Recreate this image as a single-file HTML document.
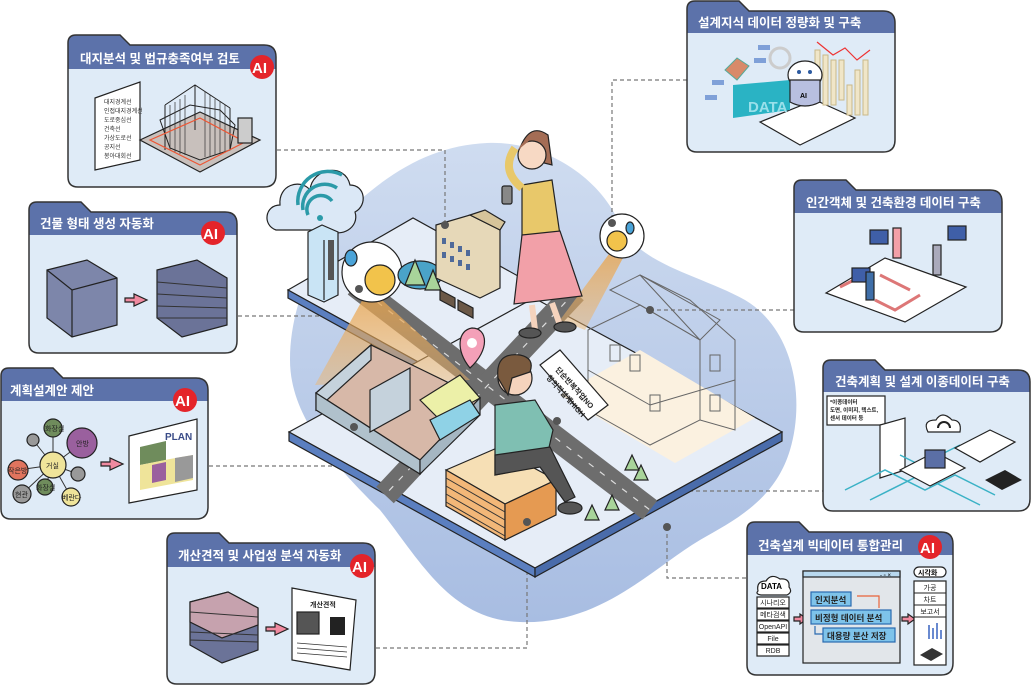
<!DOCTYPE html>
<html><head><meta charset="utf-8"><style>
html,body{margin:0;padding:0;background:#fff;}
svg{display:block;font-family:"Liberation Sans","Noto Sans CJK KR",sans-serif;}
.t{fill:#fff;font-weight:bold;font-size:12.5px;}
.cb{fill:#dfebf7;}
.ch{fill:#5c72aa;}
.co{fill:none;stroke:#333;stroke-width:1.5;}
.ai{fill:#e4242a;}
.ait{fill:#fff;font-weight:bold;font-size:15px;}
.d{fill:none;stroke:#777;stroke-width:1.2;stroke-dasharray:4 3;}
.dot{fill:#555;}
.k{stroke:#222;stroke-width:1.2;}
</style></head><body>
<svg width="1032" height="686" viewBox="0 0 1032 686" xmlns="http://www.w3.org/2000/svg">
<defs>
<linearGradient id="bl" x1="0" y1="0" x2="0" y2="1"><stop offset="0" stop-color="#cfdcf0"/><stop offset="1" stop-color="#a8bde2"/></linearGradient>
<linearGradient id="cone" x1="0" y1="0" x2="0" y2="1"><stop offset="0" stop-color="#e9a44c" stop-opacity=".8"/><stop offset="1" stop-color="#f0b56a" stop-opacity=".45"/></linearGradient>
</defs>

<path d="M487,143 C540,140 600,175 620,225 C640,265 700,275 745,300 C795,330 805,400 790,450 C775,500 735,520 700,540 C650,570 600,625 520,622 C450,620 420,560 380,510 C340,470 290,420 290,360 C290,300 320,240 360,200 C400,165 440,145 487,143 Z" fill="url(#bl)"/>

<path class="d" d="M277,150 H445 V225"/>
<path class="d" d="M238,316 H359 V289"/>
<path class="d" d="M209,466 H354 V427"/>
<path class="d" d="M376,648 H527 V522"/>
<path class="d" d="M687,80 H612 V223"/>
<path class="d" d="M650,310 H794"/>
<path class="d" d="M563,491 H823"/>
<path class="d" d="M667,527 V578 H747"/>

<polygon points="288,290 413,218 565,302 440,374" fill="#e6edf7" class="k"/>
<polygon points="288,290 440,374 440,382 288,298" fill="#5b7fc0" class="k"/>
<polygon points="289,432 534,298 782,432 535,568" fill="#e6edf7" class="k"/>
<polygon points="289,432 535,568 535,577 289,441" fill="#5b7fc0" class="k"/>
<polygon points="535,568 782,432 782,441 535,577" fill="#4a6cab" class="k"/>
<polygon points="560,395 640,350 755,418 675,463" fill="#fbf1e0"/>
<line x1="355" y1="285" x2="650" y2="510" stroke="#6d6d6d" stroke-width="24"/>
<line x1="575" y1="292" x2="385" y2="495" stroke="#6d6d6d" stroke-width="24"/>
<line x1="355" y1="285" x2="650" y2="510" stroke="#ddd" stroke-width="1.2" stroke-dasharray="6 8"/>
<line x1="575" y1="292" x2="385" y2="495" stroke="#ddd" stroke-width="1.2" stroke-dasharray="6 8"/>

<path d="M276,230 C262,225 265,205 280,205 C278,185 300,178 310,190 C312,168 345,162 350,185 C365,185 368,205 355,212 C360,228 340,238 330,230 Z" fill="#dbe8f6" class="k"/>
<path d="M308,215 a14,14 0 0 1 24,-14 M303,210 a22,22 0 0 1 34,-22 M298,205 a30,30 0 0 1 44,-30" fill="none" stroke="#2b9aa8" stroke-width="3.5"/>
<circle cx="320" cy="218" r="3" fill="#2b9aa8"/>
<polygon points="308,232 322,225 338,232 338,295 324,302 308,295" fill="#c9e4f5" class="k"/>
<line x1="324" y1="240" x2="324" y2="300" class="k"/>
<rect x="328" y="240" width="6" height="40" fill="#555"/>
<polygon points="368,290 382,300 470,380 315,385" fill="url(#cone)"/>
<polygon points="612,250 624,256 585,330 560,320" fill="url(#cone)"/>
<circle cx="372" cy="272" r="30" fill="#fff" class="k"/>
<circle cx="380" cy="280" r="15" fill="#f2c34b" class="k"/>
<ellipse cx="351" cy="258" rx="6" ry="8" fill="#4aa3d8" class="k"/>
<circle cx="622" cy="236" r="22" fill="#fff" class="k"/>
<circle cx="617" cy="241" r="10" fill="#f2c34b" class="k"/>
<ellipse cx="630" cy="228" rx="4" ry="6" fill="#4aa3d8" class="k"/>
<ellipse cx="420" cy="275" rx="22" ry="14" fill="#4aa3c8" class="k"/>
<path d="M405,285 l10,-25 l10,25 Z M425,290 l8,-20 l8,20 Z" fill="#a8d49a" class="k"/>
<polygon points="436,225 470,215 500,230 500,288 480,298 436,278" fill="#e6d8b8" class="k"/>
<polygon points="470,215 485,210 505,222 500,230" fill="#d6c49a" class="k"/>
<g fill="#4f6a9a"><rect x="442" y="238" width="4" height="6"/><rect x="450" y="242" width="4" height="6"/><rect x="458" y="246" width="4" height="6"/><rect x="466" y="250" width="4" height="6"/><rect x="442" y="252" width="4" height="6"/><rect x="450" y="256" width="4" height="6"/><rect x="458" y="260" width="4" height="6"/><rect x="466" y="264" width="4" height="6"/></g>
<path d="M440,300 l15,8 l0,-10 l-15,-8 Z M458,310 l15,8 l0,-10 l-15,-8 Z" fill="#6b5847" class="k"/>
<!-- woman -->
<path d="M522,185 l30,-5 l8,55 l-38,5 Z" fill="#e8c86a" class="k"/>
<path d="M522,235 l38,-4 l22,65 l-68,8 Z" fill="#f2a0a8" class="k"/>
<line x1="532" y1="305" x2="535" y2="330" stroke="#f5d3bd" stroke-width="6"/>
<line x1="552" y1="303" x2="560" y2="325" stroke="#f5d3bd" stroke-width="6"/>
<ellipse cx="530" cy="333" rx="11" ry="5" fill="#555" class="k"/>
<ellipse cx="565" cy="327" rx="11" ry="5" fill="#555" class="k"/>
<path d="M520,148 Q530,122 548,135 L552,165 L540,162 Z" fill="#a46d55" class="k"/>
<circle cx="532" cy="155" r="14" fill="#f7d9c4" class="k"/>
<path d="M518,150 Q528,130 546,142 L530,140 Z" fill="#a46d55"/>
<path d="M522,188 Q500,170 515,148" fill="none" stroke="#e8c86a" stroke-width="8"/>
<rect x="502" y="186" width="10" height="18" rx="2" fill="#888" class="k"/>
<path d="M470,368 C455,350 458,330 472,328 C488,328 490,350 470,368 Z" fill="#f4a0b8" class="k"/>
<circle cx="472" cy="343" r="5" fill="#fff"/>
<polygon points="316,393 371,345 480,398 420,460" fill="#d7b8a8" class="k"/>
<polygon points="316,393 371,345 371,360 316,410" fill="#c5d2dc" class="k"/>
<polygon points="316,393 316,410 420,474 420,460" fill="#b0c1cc" class="k"/>
<polygon points="420,460 480,398 480,415 420,474" fill="#a5b6c2" class="k"/>
<polygon points="370,390 410,368 410,410 370,432" fill="#c5d2dc" class="k"/>
<polygon points="420,400 460,375 480,398 440,420" fill="#ecf0a8" class="k"/>
<polygon points="430,420 470,400 480,415 440,440" fill="#8fd2e6" class="k"/>
<g fill="none" stroke="#666" stroke-width="1">
<polygon points="588,330 640,305 700,340 700,420 650,445 588,410"/>
<polygon points="610,290 640,275 720,320 700,340 640,305"/>
<polygon points="640,275 690,300 735,340 735,430 700,420 700,340"/>
<line x1="588" y1="370" x2="650" y2="405"/><line x1="650" y1="405" x2="735" y2="380"/>
<rect x="610" y="345" width="10" height="16"/><rect x="630" y="355" width="10" height="16"/><rect x="710" y="355" width="10" height="16"/><rect x="710" y="395" width="10" height="16"/><rect x="650" y="395" width="10" height="16"/>
</g>
<polygon points="446,470 497,448 556,480 505,504" fill="#f6dfb5" class="k"/>
<polygon points="446,470 505,504 505,540 446,506" fill="#f2b778" class="k"/>
<polygon points="505,504 556,480 556,515 505,540" fill="#e59a52" class="k"/>
<g stroke="#333" stroke-width="1"><line x1="446" y1="478" x2="505" y2="512"/><line x1="446" y1="486" x2="505" y2="520"/><line x1="446" y1="494" x2="505" y2="528"/><line x1="446" y1="502" x2="505" y2="536"/></g>
<path d="M495,405 l40,-5 l18,30 l-8,35 l-50,10 Z" fill="#7fbfb2" class="k"/>
<path d="M495,455 l55,-8 l25,50 l-10,5 l-25,-35 l-45,8 Z" fill="#555" class="k"/>
<ellipse cx="570" cy="508" rx="12" ry="6" fill="#555" class="k"/>
<circle cx="515" cy="378" r="17" fill="#f5d3bd" class="k"/>
<path d="M498,378 Q495,352 520,355 Q535,358 530,372 L512,378 L508,395 Z" fill="#7a5a3e" class="k"/>
<polygon points="540,365 560,350 608,405 588,420" fill="#fff" class="k"/>
<text x="555" y="370" font-size="7.5" font-weight="bold" fill="#222" transform="rotate(48 555 370)">단순반복작업NO</text>
<text x="546" y="378" font-size="7.5" font-weight="bold" fill="#222" transform="rotate(48 546 378)">창의적설계HIGH</text>
<path d="M625,470 l7,-15 l7,15 Z M634,480 l7,-15 l7,15 Z M585,520 l7,-15 l7,15 Z M605,510 l7,-15 l7,15 Z" fill="#a8d49a" class="k"/>
<circle class="dot" cx="445" cy="225" r="4"/><circle class="dot" cx="359" cy="289" r="4"/><circle class="dot" cx="354" cy="427" r="4"/><circle class="dot" cx="527" cy="522" r="4"/><circle class="dot" cx="612" cy="223" r="4"/><circle class="dot" cx="650" cy="310" r="4"/><circle class="dot" cx="557" cy="421" r="4"/><circle class="dot" cx="667" cy="527" r="4"/>

<!-- CARD 1 -->
<path class="ch" d="M68,177 L68,43 Q68,35 76,35 L120,35 L130,45 L264,45 Q276,45 276,57 L276,175 Q276,187 264,187 L78,187 Q68,187 68,177 Z"/>
<path class="cb" d="M68,69 L276,69 L276,175 Q276,187 264,187 L78,187 Q68,187 68,177 Z"/>
<path class="co" d="M68,177 L68,43 Q68,35 76,35 L120,35 L130,45 L264,45 Q276,45 276,57 L276,175 Q276,187 264,187 L78,187 Q68,187 68,177 Z"/>
<text class="t" x="80" y="63">대지분석 및 법규충족여부 검토</text>
<circle class="ai" cx="262" cy="67" r="12"/><text class="ait" x="252" y="73">AI</text>
<polygon points="95,98 140,82 140,160 95,170" fill="#fff" class="k"/>
<g font-size="6" fill="#333"><text x="104" y="104">대지경계선</text><text x="104" y="113">인접대지경계선</text><text x="104" y="122">도로중심선</text><text x="104" y="131">건축선</text><text x="104" y="140">가상도로선</text><text x="104" y="149">공지선</text><text x="104" y="158">봉아대회선</text></g>
<polygon points="140,140 200,112 260,140 200,172" fill="#c8c0bc" class="k"/>
<polygon points="160,120 190,105 220,110 235,125 230,150 200,160 170,148" fill="none" stroke="#222" stroke-width="1"/>
<path d="M165,105 L195,85 L230,108 M165,105 V150 M195,85 V130 M230,108 V150" fill="none" stroke="#222"/>
<g stroke="#333" stroke-width=".7"><line x1="170" y1="105" x2="170" y2="150"/><line x1="175" y1="102" x2="175" y2="152"/><line x1="180" y1="99" x2="180" y2="154"/><line x1="185" y1="95" x2="185" y2="155"/><line x1="205" y1="92" x2="205" y2="157"/><line x1="210" y1="95" x2="210" y2="156"/><line x1="215" y1="99" x2="215" y2="155"/><line x1="220" y1="102" x2="220" y2="153"/><line x1="225" y1="105" x2="225" y2="152"/></g>
<polygon points="150,140 200,118 245,142 200,165" fill="none" stroke="#e53" stroke-width="1.2"/>
<rect x="238" y="118" width="14" height="25" fill="#ccc" class="k"/>

<!-- CARD 2 -->
<path class="ch" d="M29,343 L29,210 Q29,202 37,202 L81,202 L91,212 L225,212 Q237,212 237,224 L237,341 Q237,353 225,353 L39,353 Q29,353 29,343 Z"/>
<path class="cb" d="M29,235 L237,235 L237,341 Q237,353 225,353 L39,353 Q29,353 29,343 Z"/>
<path class="co" d="M29,343 L29,210 Q29,202 37,202 L81,202 L91,212 L225,212 Q237,212 237,224 L237,341 Q237,353 225,353 L39,353 Q29,353 29,343 Z"/>
<text class="t" x="40" y="228">건물 형태 생성 자동화</text>
<circle class="ai" cx="213" cy="233" r="12"/><text class="ait" x="203" y="239">AI</text>
<polygon points="47,270 87,260 117,278 117,325 72,337 47,318" fill="#7d86aa" class="k"/>
<path d="M47,270 L72,290 L117,278 M72,290 L72,337" fill="none" stroke="#222" stroke-width="1.2"/>
<polygon points="125,298 134,298 134,294 147,300 134,306 134,302 125,302" fill="#f08aa0" class="k"/>
<polygon points="157,270 197,260 227,278 227,325 182,337 157,318" fill="#6b7398" class="k"/>
<g stroke="#333"><line x1="157" y1="282" x2="227" y2="288"/><line x1="157" y1="294" x2="227" y2="298"/><line x1="157" y1="306" x2="227" y2="308"/><line x1="157" y1="318" x2="227" y2="318"/></g>

<!-- CARD 3 -->
<path class="ch" d="M1,509 L1,376 Q1,368 9,368 L53,368 L63,378 L196,378 Q208,378 208,390 L208,507 Q208,519 196,519 L11,519 Q1,519 1,509 Z"/>
<path class="cb" d="M1,401 L208,401 L208,507 Q208,519 196,519 L11,519 Q1,519 1,509 Z"/>
<path class="co" d="M1,509 L1,376 Q1,368 9,368 L53,368 L63,378 L196,378 Q208,378 208,390 L208,507 Q208,519 196,519 L11,519 Q1,519 1,509 Z"/>
<text class="t" x="10" y="395">계획설계안 제안</text>
<circle class="ai" cx="185" cy="400" r="12"/><text class="ait" x="175" y="406">AI</text>
<g stroke="#333" stroke-width="1"><line x1="53" y1="465" x2="53" y2="428"/><line x1="53" y1="465" x2="82" y2="443"/><line x1="53" y1="465" x2="18" y2="470"/><line x1="53" y1="465" x2="22" y2="494"/><line x1="53" y1="465" x2="45" y2="487"/><line x1="53" y1="465" x2="71" y2="497"/><line x1="53" y1="465" x2="78" y2="474"/><line x1="53" y1="465" x2="33" y2="440"/></g>
<circle cx="53" cy="428" r="9" fill="#6f8c5c" class="k"/><circle cx="82" cy="443" r="15" fill="#9a609e" class="k"/><circle cx="53" cy="465" r="13" fill="#efe49a" class="k"/><circle cx="18" cy="470" r="10" fill="#e0745e" class="k"/><circle cx="22" cy="494" r="9" fill="#999" class="k"/><circle cx="45" cy="487" r="8" fill="#6f8c5c" class="k"/><circle cx="71" cy="497" r="9" fill="#efe49a" class="k"/><circle cx="78" cy="474" r="7" fill="#999" class="k"/><circle cx="33" cy="440" r="6" fill="#999" class="k"/>
<g font-size="7" fill="#222"><text x="45" y="431">화장실</text><text x="76" y="446">안방</text><text x="46" y="468">거실</text><text x="8" y="473">작은방</text><text x="15" y="497">현관</text><text x="36" y="490">화장실</text><text x="62" y="500">베란다</text></g>
<polygon points="101,462 110,462 110,458 123,464 110,470 110,466 101,466" fill="#f08aa0" class="k"/>
<polygon points="129,436 197,419 197,490 129,503" fill="#fff" class="k"/>
<polygon points="140,447 166,441 166,460 140,465" fill="#6f8c5c"/><polygon points="140,465 170,459 193,455 193,480 140,490" fill="#efe49a"/><polygon points="152,465 166,462 166,480 152,483" fill="#9a609e"/><polygon points="175,458 193,455 193,478 175,482" fill="#999"/>
<text x="165" y="440" font-size="10" font-weight="bold" fill="#3a4c88">PLAN</text>

<!-- CARD 4 -->
<path class="ch" d="M167,674 L167,541 Q167,533 175,533 L219,533 L229,543 L363,543 Q375,543 375,555 L375,672 Q375,684 363,684 L177,684 Q167,684 167,674 Z"/>
<path class="cb" d="M167,567 L375,567 L375,672 Q375,684 363,684 L177,684 Q167,684 167,674 Z"/>
<path class="co" d="M167,674 L167,541 Q167,533 175,533 L219,533 L229,543 L363,543 Q375,543 375,555 L375,672 Q375,684 363,684 L177,684 Q167,684 167,674 Z"/>
<text class="t" x="178" y="560">개산견적 및 사업성 분석 자동화</text>
<circle class="ai" cx="362" cy="566" r="12"/><text class="ait" x="352" y="572">AI</text>
<polygon points="190,602 228,592 258,608 258,650 222,663 190,645" fill="#6b7398" class="k"/>
<polygon points="190,602 228,592 258,608 258,625 222,638 190,622" fill="#c6a2ae" class="k"/>
<g stroke="#333"><line x1="190" y1="612" x2="258" y2="617"/><line x1="190" y1="632" x2="258" y2="635"/><line x1="190" y1="640" x2="258" y2="642"/></g>
<polygon points="266,627 275,627 275,623 288,629 275,635 275,631 266,631" fill="#f08aa0" class="k"/>
<polygon points="292,588 356,600 350,670 292,660" fill="#fff" class="k"/>
<text x="310" y="607" font-size="7" font-weight="bold" fill="#222">개산견적</text>
<rect x="297" y="612" width="22" height="22" fill="#555" class="k"/><rect x="330" y="617" width="15" height="18" fill="#222"/>
<g stroke="#333" stroke-width=".8"><line x1="297" y1="643" x2="347" y2="647"/><line x1="297" y1="648" x2="347" y2="652"/><line x1="297" y1="653" x2="347" y2="657"/></g>

<!-- CARD 5 -->
<path class="ch" d="M687,142 L687,9 Q687,1 695,1 L739,1 L749,11 L883,11 Q895,11 895,23 L895,140 Q895,152 883,152 L697,152 Q687,152 687,142 Z"/>
<path class="cb" d="M687,33 L895,33 L895,140 Q895,152 883,152 L697,152 Q687,152 687,142 Z"/>
<path class="co" d="M687,142 L687,9 Q687,1 695,1 L739,1 L749,11 L883,11 Q895,11 895,23 L895,140 Q895,152 883,152 L697,152 Q687,152 687,142 Z"/>
<text class="t" x="698" y="27">설계지식 데이터 정량화 및 구축</text>
<polygon points="760,122 815,100 855,118 800,145" fill="#fff" class="k"/>
<polygon points="733,85 790,80 790,110 733,118" fill="#2ab3c4"/>
<text x="748" y="112" font-size="15" font-weight="bold" fill="#9ae0ea">DATA</text>
<path d="M725,70 l12,-12 l12,8 l-12,14 Z" fill="#d88a6a" stroke="#5a9" stroke-width="1"/>
<g fill="#7fa0d8"><rect x="712" y="80" width="12" height="5"/><rect x="705" y="95" width="12" height="5"/><rect x="758" y="45" width="12" height="5"/><rect x="754" y="58" width="12" height="5"/></g>
<circle cx="780" cy="58" r="10" fill="none" stroke="#ccc" stroke-width="3"/>
<g fill="#f0e6c8" stroke="#c9b88a"><rect x="815" y="50" width="5" height="50"/><rect x="823" y="55" width="5" height="50"/><rect x="831" y="60" width="5" height="45"/><rect x="839" y="60" width="5" height="40"/><rect x="847" y="85" width="5" height="30"/><rect x="855" y="70" width="5" height="45"/><rect x="863" y="60" width="5" height="55"/></g>
<polyline points="817,42 833,55 845,48 857,60 870,50" fill="none" stroke="#e33" stroke-width="1.2"/>
<ellipse cx="805" cy="75" rx="17" ry="14" fill="#fff" class="k"/>
<path d="M790,80 h30 v22 q-15,8 -30,0 Z" fill="#b8bfe0" class="k"/>
<text x="800" y="98" font-size="7" font-weight="bold">AI</text>
<circle cx="799" cy="72" r="2" fill="#2c5aa0"/><circle cx="810" cy="72" r="2" fill="#2c5aa0"/>

<!-- CARD 6 -->
<path class="ch" d="M794,322 L794,188 Q794,180 802,180 L846,180 L856,190 L990,190 Q1002,190 1002,202 L1002,320 Q1002,332 990,332 L804,332 Q794,332 794,322 Z"/>
<path class="cb" d="M794,213 L1002,213 L1002,320 Q1002,332 990,332 L804,332 Q794,332 794,322 Z"/>
<path class="co" d="M794,322 L794,188 Q794,180 802,180 L846,180 L856,190 L990,190 Q1002,190 1002,202 L1002,320 Q1002,332 990,332 L804,332 Q794,332 794,322 Z"/>
<text class="t" x="806" y="207">인간객체 및 건축환경 데이터 구축</text>
<polygon points="826,293 885,258 966,287 905,322" fill="#fff" class="k"/>
<path d="M840,287 l30,-15 M880,275 l30,15 M875,300 l20,10 l25,-15" fill="none" stroke="#d77" stroke-width="3"/>
<rect x="870" y="230" width="18" height="14" fill="#3f5fa8" class="k"/><rect x="948" y="226" width="18" height="14" fill="#3f5fa8" class="k"/><rect x="852" y="268" width="18" height="14" fill="#3f5fa8" class="k"/>
<rect x="893" y="228" width="8" height="30" fill="#f2a0a8" class="k"/><rect x="933" y="245" width="8" height="30" fill="#aab" class="k"/><rect x="866" y="272" width="8" height="28" fill="#3f6ea8" class="k"/>

<!-- CARD 7 -->
<path class="ch" d="M823,501 L823,368 Q823,360 831,360 L875,360 L885,370 L1018,370 Q1030,370 1030,382 L1030,499 Q1030,511 1018,511 L833,511 Q823,511 823,501 Z"/>
<path class="cb" d="M823,392 L1030,392 L1030,499 Q1030,511 1018,511 L833,511 Q823,511 823,501 Z"/>
<path class="co" d="M823,501 L823,368 Q823,360 831,360 L875,360 L885,370 L1018,370 Q1030,370 1030,382 L1030,499 Q1030,511 1018,511 L833,511 Q823,511 823,501 Z"/>
<text class="t" x="835" y="386">건축계획 및 설계 이종데이터 구축</text>
<rect x="827" y="396" width="58" height="29" fill="#fff" class="k"/>
<g font-size="5.5" font-weight="bold" fill="#222"><text x="830" y="404">*이종데이터</text><text x="830" y="412">도면, 이미지, 텍스트,</text><text x="830" y="420">센서 데이터 등</text></g>
<path d="M928,432 q-6,-12 8,-12 q6,-10 16,0 q10,0 8,12 Z" fill="#fff" class="k"/>
<path d="M938,428 a6,6 0 0 1 12,0" fill="none" stroke="#222" stroke-width="2"/>
<polygon points="880,425 905,418 905,470 880,478" fill="#fff" class="k"/>
<g fill="none" stroke="#3bb2c6" stroke-width="1.5"><path d="M845,490 l40,-20 l40,20 l30,-15 l40,20"/><path d="M870,500 l50,-25 l60,30"/><path d="M900,455 l20,10 l40,-20"/></g>
<polygon points="900,470 935,452 965,468 930,486" fill="#fff" class="k"/>
<rect x="925" y="450" width="20" height="18" fill="#5b6fa6" class="k"/>
<polygon points="955,448 990,430 1015,442 980,462" fill="#fff" class="k"/>
<polygon points="985,480 1005,470 1022,480 1002,490" fill="#222"/>

<!-- CARD 8 -->
<path class="ch" d="M747,665 L747,530 Q747,522 755,522 L799,522 L809,532 L941,532 Q953,532 953,544 L953,663 Q953,675 941,675 L757,675 Q747,675 747,665 Z"/>
<path class="cb" d="M747,555 L953,555 L953,663 Q953,675 941,675 L757,675 Q747,675 747,665 Z"/>
<path class="co" d="M747,665 L747,530 Q747,522 755,522 L799,522 L809,532 L941,532 Q953,532 953,544 L953,663 Q953,675 941,675 L757,675 Q747,675 747,665 Z"/>
<text class="t" x="758" y="550">건축설계 빅데이터 통합관리</text>
<circle class="ai" cx="930" cy="547" r="12"/><text class="ait" x="920" y="553">AI</text>
<path d="M758,591 q-2,-10 8,-10 q5,-8 14,-2 q10,-1 9,8 q4,5 -2,8 h-26 q-6,-1 -3,-4 Z" fill="#fff" class="k"/>
<text x="761" y="589" font-size="8" font-weight="bold">DATA</text>
<g fill="#fff" class="k"><rect x="757" y="597" width="32" height="11"/><rect x="757" y="609" width="32" height="11"/><rect x="757" y="621" width="32" height="11"/><rect x="757" y="633" width="32" height="11"/><rect x="757" y="645" width="32" height="11"/></g>
<g font-size="7" fill="#222" text-anchor="middle"><text x="773" y="605">시나리오</text><text x="773" y="617">메타검색</text><text x="773" y="629">OpenAPI</text><text x="773" y="641">File</text><text x="773" y="653">RDB</text></g>
<polygon points="794,617 800,617 800,614 807,619 800,624 800,621 794,621" fill="#f08aa0" class="k"/>
<rect x="803" y="571" width="97" height="92" fill="#e2e6ea" class="k"/>
<rect x="803" y="571" width="97" height="6" fill="#b8d8ee" class="k"/>
<text x="880" y="577" font-size="6">- ▫ ×</text>
<g fill="#7ec3ea" stroke="#2a6ab0" stroke-width="1.2"><rect x="811" y="592" width="40" height="14"/><rect x="811" y="610" width="80" height="14"/><rect x="823" y="628" width="72" height="14"/></g>
<g font-size="8.5" font-weight="bold" fill="#222"><text x="815" y="603">인지분석</text><text x="815" y="621">비정형 데이터 분석</text><text x="827" y="639">대용량 분산 저장</text></g>
<path d="M879,608 v-12 h-22" fill="none" stroke="#e8643a" stroke-width="1.2"/>
<path d="M815,626 v8 h8" fill="none" stroke="#2a6ab0" stroke-width="1.2"/>
<polygon points="902,617 908,617 908,614 915,619 908,624 908,621 902,621" fill="#f08aa0" class="k"/>
<rect x="914" y="567" width="32" height="10" rx="5" fill="#fff" class="k"/>
<text x="918" y="575" font-size="7" font-weight="bold">시각화</text>
<rect x="914" y="581" width="32" height="84" fill="#fff" class="k"/>
<g stroke="#222"><line x1="914" y1="593" x2="946" y2="593"/><line x1="914" y1="605" x2="946" y2="605"/><line x1="914" y1="617" x2="946" y2="617"/></g>
<g font-size="7" fill="#222" text-anchor="middle"><text x="930" y="590">가공</text><text x="930" y="602">차트</text><text x="930" y="614">보고서</text></g>
<polygon points="920,655 932,648 943,654 931,661" fill="#333"/>
<g fill="#6a8ad0"><rect x="928" y="625" width="2" height="14"/><rect x="932" y="628" width="2" height="11"/><rect x="936" y="623" width="2" height="16"/><rect x="940" y="630" width="2" height="9"/></g>
</svg>
</body></html>
